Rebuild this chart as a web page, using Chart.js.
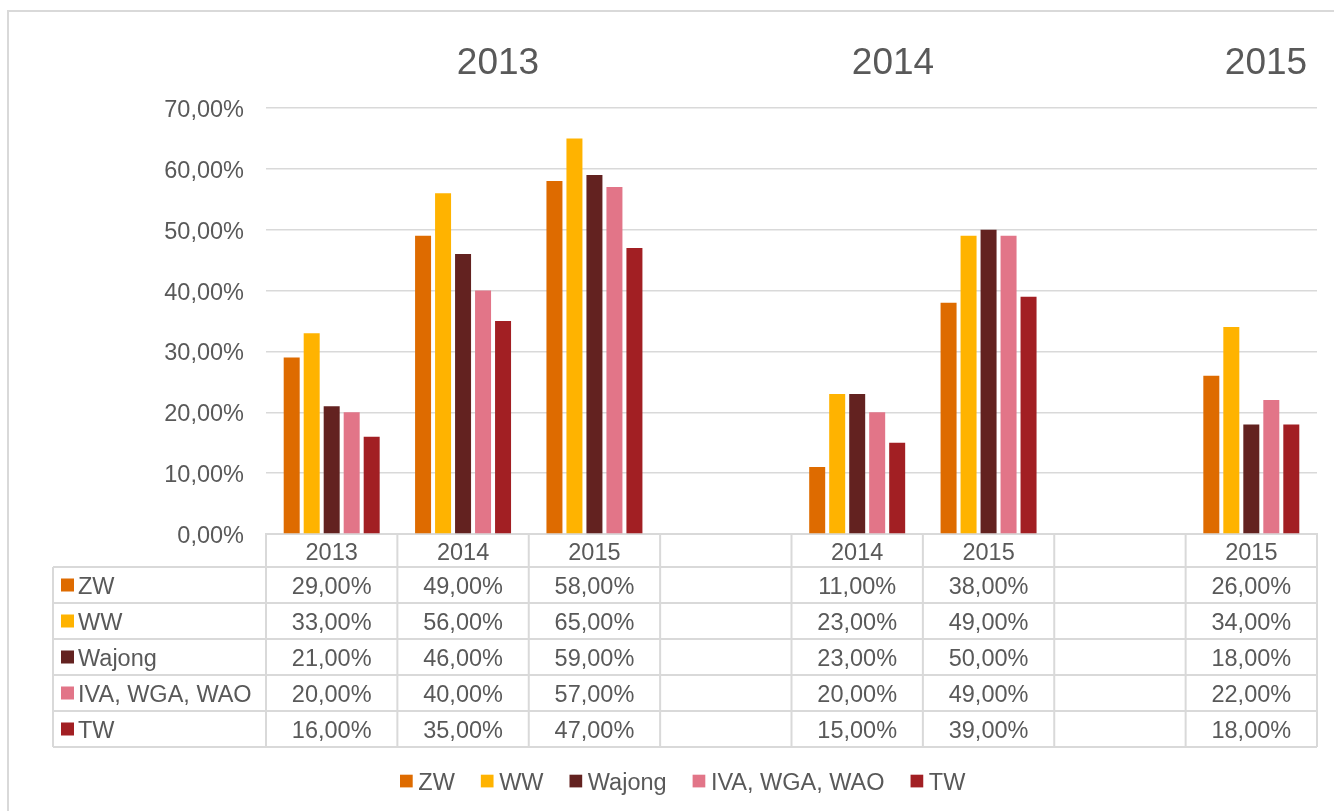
<!DOCTYPE html>
<html><head><meta charset="utf-8">
<script src="https://cdn.jsdelivr.net/npm/chart.js@4.4.1/dist/chart.umd.min.js"></script>
<style>html,body{margin:0;padding:0;background:#fff;} #wrap{position:relative;width:1334px;height:811px;}</style>
</head><body><div id="wrap"><canvas id="c" width="1334" height="811"></canvas></div>
<script>
// ---- data ----
const categories = ['2013','2014','2015','','2014','2015','','2015'];
const seriesNames = ['ZW','WW','Wajong','IVA, WGA, WAO','TW'];
const zw     = [29,49,58,null,11,38,null,26];
const ww     = [33,56,65,null,23,49,null,34];
const wajong = [21,46,59,null,23,50,null,18];
const iva    = [20,40,57,null,20,49,null,22];
const tw     = [16,35,47,null,15,39,null,18];
const yTicks = [0,10,20,30,40,50,60,70];
const groupHeaders = ['2013','2014','2015'];

// ---- styles ----
const seriesColors = ['#DE6B00','#FFB300','#632220','#E27588','#A21F23'];
const FONT = "'Liberation Sans', Arial, sans-serif";
const FS = 23.5;
const TXT = '#595959', LINE = '#D9D9D9';
const groupHeaderPos = [[498,64],[893,64],[1266,64]];
const TY = 2.5; // text vertical nudge
const fmt = v => v.toFixed(2).replace('.', ',') + '%';

const tablePlugin = {
  id: 'tbl',
  beforeDraw(chart) {
    const ctx = chart.ctx;
    ctx.save();
    ctx.strokeStyle = LINE; ctx.lineWidth = 2;
    ctx.strokeRect(8, 11, 1400, 900);
    ctx.restore();
  },
  afterDraw(chart) {
    const {ctx, chartArea: ca, scales: {x}} = chart;
    const n = categories.length;
    const cw = (ca.right - ca.left) / n;
    const headTop = ca.bottom, headBot = ca.bottom + 33, rowH = 36;
    const tableLeft = 53;
    const tableBot = headBot + rowH * chart.data.datasets.length;
    ctx.save();
    ctx.strokeStyle = LINE; ctx.lineWidth = 2;
    ctx.beginPath();
    for (let r = 0; r <= chart.data.datasets.length; r++) {
      const y = headBot + r * rowH;
      ctx.moveTo(tableLeft, y); ctx.lineTo(ca.right, y);
    }
    for (let i = 0; i <= n; i++) {
      const xx = i < n ? x.getPixelForValue(i) - cw / 2 : x.getPixelForValue(n - 1) + cw / 2;
      ctx.moveTo(xx, headTop); ctx.lineTo(xx, tableBot);
    }
    ctx.moveTo(tableLeft, headBot); ctx.lineTo(tableLeft, tableBot);
    ctx.stroke();

    ctx.font = `${FS}px ${FONT}`;
    ctx.textBaseline = 'middle';
    chart.data.datasets.forEach((ds, r) => {
      const yc = headBot + r * rowH + rowH / 2;
      ctx.fillStyle = ds.backgroundColor;
      ctx.fillRect(61, yc - 6.5, 13, 13);
      ctx.fillStyle = TXT; ctx.textAlign = 'left';
      ctx.fillText(ds.label, 78, yc + TY);
      ctx.textAlign = 'center';
      ds.data.forEach((v, i) => { if (v != null) ctx.fillText(fmt(v), x.getPixelForValue(i), yc + TY); });
    });

    // legend
    let lx = 400; const ly = 781;
    ctx.textAlign = 'left';
    chart.data.datasets.forEach(ds => {
      ctx.fillStyle = ds.backgroundColor;
      ctx.fillRect(lx, ly - 6.3, 12.7, 12.7);
      ctx.fillStyle = TXT;
      ctx.fillText(ds.label, lx + 18.3, ly + TY);
      lx += 18.3 + ctx.measureText(ds.label).width + 26;
    });

    // group headers
    ctx.font = `37px ${FONT}`;
    ctx.textAlign = 'center';
    ctx.fillStyle = TXT;
    groupHeaders.forEach((t, i) => ctx.fillText(t, groupHeaderPos[i][0], groupHeaderPos[i][1]));
    ctx.restore();
  }
};

const seriesData = [zw, ww, wajong, iva, tw];
new Chart(document.getElementById('c'), {
  type: 'bar',
  data: {
    labels: categories,
    datasets: seriesNames.map((name, i) => ({
      label: name,
      data: seriesData[i],
      backgroundColor: seriesColors[i],
      borderWidth: 0,
      categoryPercentage: 0.761,
      barPercentage: 0.8
    }))
  },
  options: {
    responsive: false,
    animation: false,
    layout: { padding: { left: 0, right: 17, top: 108, bottom: 0 } },
    plugins: { legend: { display: false }, tooltip: { enabled: false } },
    scales: {
      x: {
        grid: { display: false, drawTicks: false },
        border: { display: true, color: LINE, width: 2 },
        ticks: { font: { family: FONT, size: FS }, color: TXT, padding: 5, autoSkip: false, maxRotation: 0 },
        afterFit(s) { s.height = 811 - 534; }
      },
      y: {
        min: yTicks[0], max: yTicks[yTicks.length - 1],
        ticks: { stepSize: yTicks[1] - yTicks[0], font: { family: FONT, size: FS }, color: TXT, padding: 22,
                 labelOffset: TY, callback: v => fmt(v) },
        grid: { color: LINE, lineWidth: 1.5, drawTicks: false },
        border: { display: false },
        afterFit(s) { s.width = 266; }
      }
    }
  },
  plugins: [tablePlugin]
});
</script>
</body></html>
